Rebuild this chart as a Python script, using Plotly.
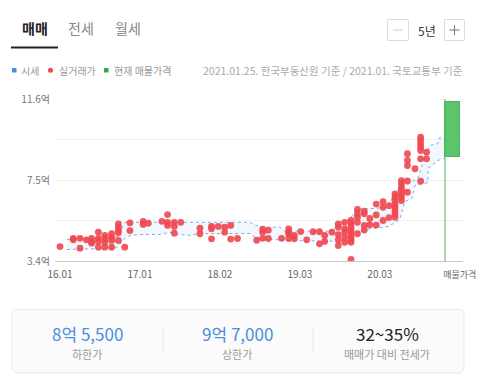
import plotly.graph_objects as go

FONT = "Noto Sans CJK KR"

# ---------------- data ----------------
tick_pos = [0, 10, 20, 30, 40, 50]
tick_labels = ["16.01", "17.01", "18.02", "19.03", "20.03", "매물가격"]

price_ticks = [3.4, 5.45, 7.5, 9.55, 11.6]
price_tick_labels = ["3.4억", "", "7.5억", "", "11.6억"]

# 시세 upper / lower bound (period index, 억원)
upper_x = [0.875, 6.875, 7.25, 8.1, 8.5, 23.75, 25.0, 27.5, 28.1, 33.75, 35.0, 36.4,
           37.0, 40.9, 41.6, 42.5, 43.75, 44.75, 45.75, 46.25, 47.25, 47.5, 48.1]
upper_y = [4.49, 4.60, 4.63, 5.35, 5.36, 5.36, 5.11, 5.11, 4.92, 4.91, 5.20, 5.60,
           6.01, 6.11, 6.61, 7.12, 7.37, 7.58, 8.84, 9.25, 9.35, 9.65, 9.65]
lower_x = [0.875, 6.875, 7.25, 8.1, 8.75, 10.0, 12.5, 13.75, 15.0, 16.25, 17.5, 23.75,
           24.6, 28.75, 33.75, 36.25, 37.1, 38.75, 41.1, 42.5, 43.1, 44.0, 44.4, 45.4,
           46.0, 46.05, 46.25, 47.25, 47.9, 48.1]
lower_y = [3.98, 4.05, 4.13, 4.54, 4.69, 4.74, 4.74, 4.85, 4.74, 4.69, 4.79, 4.79,
           4.54, 4.44, 4.40, 4.44, 4.82, 5.03, 5.15, 5.50, 6.41, 6.56, 7.22, 7.32,
           7.37, 8.13, 8.15, 8.49, 8.59, 8.59]

# 실거래가 (period index, 억원)
deal_x = [0.0,
          1.66, 1.66, 2.5, 2.5, 3.3, 3.95, 3.95, 3.95,
          4.8, 4.8, 4.8, 4.8, 5.6, 5.6, 5.6, 5.6, 6.45, 6.45, 6.45, 6.45,
          7.3, 7.3, 7.3, 7.3, 7.3, 8.1, 8.75, 8.75, 10.4, 10.4, 11.05, 12.75,
          13.45, 13.45, 13.45, 14.3, 14.3, 14.3, 15.1, 17.5, 17.5,
          18.95, 18.95, 18.95, 19.8, 20.6, 20.6, 21.35, 21.35, 22.2,
          24.6, 25.35, 25.35, 25.35, 26.05, 26.05, 27.7,
          28.6, 28.6, 28.6, 28.6, 29.3, 29.3, 30.1, 30.85, 31.65, 32.45, 32.45,
          33.1, 33.1, 34.0,
          34.8, 34.8, 34.8, 34.8, 34.8, 35.6, 35.6, 35.6, 35.6, 35.6,
          36.4, 36.4, 36.4, 36.4, 36.4, 36.4, 36.4, 36.4, 36.4,
          37.2, 37.2, 37.2, 37.2, 37.2, 38.05, 38.05, 38.05, 38.05, 38.75, 38.75,
          39.55, 39.55, 39.55, 40.4, 40.4, 40.4, 41.15, 41.15,
          41.9, 41.9, 41.9, 41.9, 41.9, 41.9, 41.9, 41.9,
          42.7, 42.7, 42.7, 42.7, 42.7, 42.7, 42.7,
          43.45, 43.45, 43.45, 43.45, 43.45, 44.4,
          45.1, 45.1, 45.1, 45.1, 45.1, 45.1, 45.1, 45.85, 45.85]
deal_y = [4.13,
          4.55, 4.47, 4.55, 4.05, 4.47, 4.55, 4.39, 4.30,
          4.86, 4.55, 4.39, 4.10, 4.69, 4.52, 4.35, 4.10, 4.78, 4.60, 4.44, 4.10,
          5.28, 5.11, 4.94, 4.83, 4.44, 4.10, 5.33, 4.94, 5.41, 5.25, 5.31, 5.41,
          5.75, 5.36, 5.20, 5.36, 5.15, 4.81, 5.36, 5.06, 4.78,
          5.15, 5.03, 4.52, 5.15, 5.11, 4.86, 5.20, 4.51, 4.54,
          4.45, 5.01, 4.86, 4.55, 4.96, 4.54, 4.55,
          5.03, 4.86, 4.78, 4.54, 4.69, 4.52, 4.89, 4.47, 4.88, 4.88, 4.27,
          4.69, 4.39, 4.86,
          5.28, 5.11, 4.74, 4.47, 4.18, 5.36, 5.03, 4.86, 4.60, 4.35,
          5.45, 5.30, 5.11, 4.94, 4.78, 4.60, 4.47, 4.35, 3.48,
          6.01, 5.79, 5.62, 5.36, 4.78, 5.92, 5.79, 5.20, 4.97, 5.55, 5.23,
          6.28, 5.73, 5.22, 6.40, 6.12, 5.45, 6.20, 5.60,
          6.80, 6.63, 6.46, 6.29, 6.12, 5.96, 5.79, 5.62,
          7.47, 7.31, 7.13, 6.97, 6.80, 6.63, 6.46,
          8.83, 8.49, 8.23, 7.45, 6.88, 8.07,
          9.67, 9.50, 9.33, 9.16, 8.99, 8.57, 7.44, 8.91, 8.57]

# 현재 매물가격
listing_line_x = 48.15
listing_center_x = 49.075
listing_width = 1.85
listing_low = 8.65
listing_high = 11.44

summary_values = ["8억 5,500", "9억 7,000", "32~35%"]
summary_labels = ["하한가", "상한가", "매매가 대비 전세가"]

# ---------------- figure ----------------
BLUE = "#78aee8"
RED = "#f0464f"
GREEN = "#5cc46a"

fig = go.Figure()

# band fill
fig.add_trace(go.Scatter(
    x=upper_x + lower_x[::-1], y=upper_y + lower_y[::-1],
    fill="toself", fillcolor="rgba(110,170,230,0.09)", mode="none",
    hoverinfo="skip", showlegend=False))
fig.add_trace(go.Scatter(x=upper_x, y=upper_y, mode="lines",
                         line=dict(color=BLUE, width=1, dash="dot"), showlegend=False))
fig.add_trace(go.Scatter(x=lower_x, y=lower_y, mode="lines",
                         line=dict(color=BLUE, width=1, dash="dot"), showlegend=False))

# listing bar
fig.add_trace(go.Bar(x=[listing_center_x], y=[listing_high - listing_low], base=[listing_low],
                     width=[listing_width], marker=dict(color=GREEN, line=dict(color="#4db35b", width=1)),
                     showlegend=False))
fig.add_vline(x=listing_line_x, line=dict(color="#4cb85a", width=1))

# deals
fig.add_trace(go.Scatter(x=deal_x, y=deal_y, mode="markers",
                         marker=dict(color=RED, size=6.8, opacity=0.9, line=dict(width=0)),
                         showlegend=False))

L, R, T, B = 55, 18, 99, 120
W, H = 481, 381
PW, PH = W - L - R, H - T - B


def px(x):
    return (x - L) / PW


def py(y):
    return (H - B - y) / PH


shapes = []
ann = []

# tabs
for text, cx, col, bold in [("매매", 34.5, "#222", True), ("전세", 81, "#888", False), ("월세", 128, "#888", False)]:
    ann.append(dict(x=px(cx), y=py(27.5), xref="paper", yref="paper", text=f"<b>{text}</b>" if bold else text,
                    showarrow=False, font=dict(family=FONT, size=14, color=col), xanchor="center", yanchor="middle"))
shapes.append(dict(type="line", xref="paper", yref="paper", x0=px(58), x1=px(465), y0=py(47.5), y1=py(47.5),
                   line=dict(color="#e0e0e0", width=1)))
shapes.append(dict(type="line", xref="paper", yref="paper", x0=px(11), x1=px(58), y0=py(47.5), y1=py(47.5),
                   line=dict(color="#222", width=2)))
# - 5년 +
for x0, x1 in [(387.5, 408.5), (444.5, 464.5)]:
    shapes.append(dict(type="rect", xref="paper", yref="paper", x0=px(x0), x1=px(x1), y0=py(40.5), y1=py(19.5),
                       line=dict(color="#dcdcdc", width=1), fillcolor="white"))
shapes.append(dict(type="line", xref="paper", yref="paper", x0=px(393), x1=px(403), y0=py(30), y1=py(30),
                   line=dict(color="#cfcfcf", width=1)))
shapes.append(dict(type="line", xref="paper", yref="paper", x0=px(449.5), x1=px(459.5), y0=py(30), y1=py(30),
                   line=dict(color="#777", width=1)))
shapes.append(dict(type="line", xref="paper", yref="paper", x0=px(454.5), x1=px(454.5), y0=py(25), y1=py(35),
                   line=dict(color="#777", width=1)))
ann.append(dict(x=px(426.5), y=py(30), xref="paper", yref="paper", text="5년", showarrow=False,
                font=dict(family=FONT, size=12, color="#333"), xanchor="center", yanchor="middle"))

# legend row
shapes.append(dict(type="rect", xref="paper", yref="paper", x0=px(12), x1=px(16.5), y0=py(72.5), y1=py(68),
                   line=dict(width=0), fillcolor="#4a8fe0"))
shapes.append(dict(type="circle", xref="paper", yref="paper", x0=px(48), x1=px(53), y0=py(72.7), y1=py(67.7),
                   line=dict(width=0), fillcolor=RED))
shapes.append(dict(type="rect", xref="paper", yref="paper", x0=px(104), x1=px(108.5), y0=py(72.5), y1=py(68),
                   line=dict(width=0), fillcolor="#2fae47"))
for text, x0 in [("시세", 18.5), ("실거래가", 56.5), ("현재 매물가격", 111.5)]:
    ann.append(dict(x=px(x0), y=py(70), xref="paper", yref="paper", text=text, showarrow=False,
                    font=dict(family=FONT, size=10, color="#999"), xanchor="left", yanchor="middle"))
ann.append(dict(x=px(464.5), y=py(70), xref="paper", yref="paper",
                text="2021.01.25. 한국부동산원 기준 / 2021.01. 국토교통부 기준", showarrow=False,
                font=dict(family=FONT, size=10.5, color="#aaa"), xanchor="right", yanchor="middle"))

# summary box (rounded)
bx0, bx1, by0, by1, r = 12, 464, 309.5, 373, 6
rx, ry = r / PW, r / PH
X0, X1, Y0, Y1 = px(bx0), px(bx1), py(by1), py(by0)
path = (f"M {X0+rx},{Y1} L {X1-rx},{Y1} Q {X1},{Y1} {X1},{Y1-ry} L {X1},{Y0+ry} Q {X1},{Y0} {X1-rx},{Y0} "
        f"L {X0+rx},{Y0} Q {X0},{Y0} {X0},{Y0+ry} L {X0},{Y1-ry} Q {X0},{Y1} {X0+rx},{Y1} Z")
shapes.append(dict(type="path", xref="paper", yref="paper", path=path,
                   line=dict(color="#e9e9e9", width=1), fillcolor="#fbfbfb"))
for dx in [163, 313]:
    shapes.append(dict(type="line", xref="paper", yref="paper", x0=px(dx), x1=px(dx), y0=py(328), y1=py(352),
                       line=dict(color="#e8e8e8", width=1)))
for i, cx in enumerate([87, 237, 387]):
    col = "#4a8fdc" if i < 2 else "#222"
    ann.append(dict(x=px(cx), y=py(333.5), xref="paper", yref="paper", text=summary_values[i], showarrow=False,
                    font=dict(family=FONT, size=17, color=col), xanchor="center", yanchor="middle"))
    ann.append(dict(x=px(cx), y=py(353.5), xref="paper", yref="paper", text=summary_labels[i], showarrow=False,
                    font=dict(family=FONT, size=11, color="#999"), xanchor="center", yanchor="middle"))

tick_text_styled = tick_labels[:-1] + [f'<span style="font-size:9px">{tick_labels[-1]}</span>']

fig.update_layout(
    width=W, height=H,
    margin=dict(l=L, r=R, t=T, b=B),
    paper_bgcolor="white", plot_bgcolor="white",
    showlegend=False,
    font=dict(family=FONT),
    shapes=shapes, annotations=ann,
    bargap=0,
)
fig.update_xaxes(range=[-0.625, 50.4], tickvals=tick_pos, ticktext=tick_text_styled, showgrid=False,
                 zeroline=False, showline=True, linecolor="#c8c8c8", linewidth=1, ticks="",
                 ticklabelstandoff=4,
                 tickfont=dict(family=FONT, size=10, color="#666"), automargin=False, fixedrange=True)
fig.update_yaxes(range=[3.4, 11.6], tickvals=price_ticks, ticktext=price_tick_labels, showgrid=True,
                 gridcolor="#f2f2f2", zeroline=False, showline=False, ticks="",
                 ticklabelstandoff=4,
                 tickfont=dict(family=FONT, size=10, color="#777"), automargin=False, fixedrange=True)

fig.write_html("out.html", config={"displayModeBar": False},
               post_script="document.body.style.margin='0';document.body.style.overflow='hidden';")
